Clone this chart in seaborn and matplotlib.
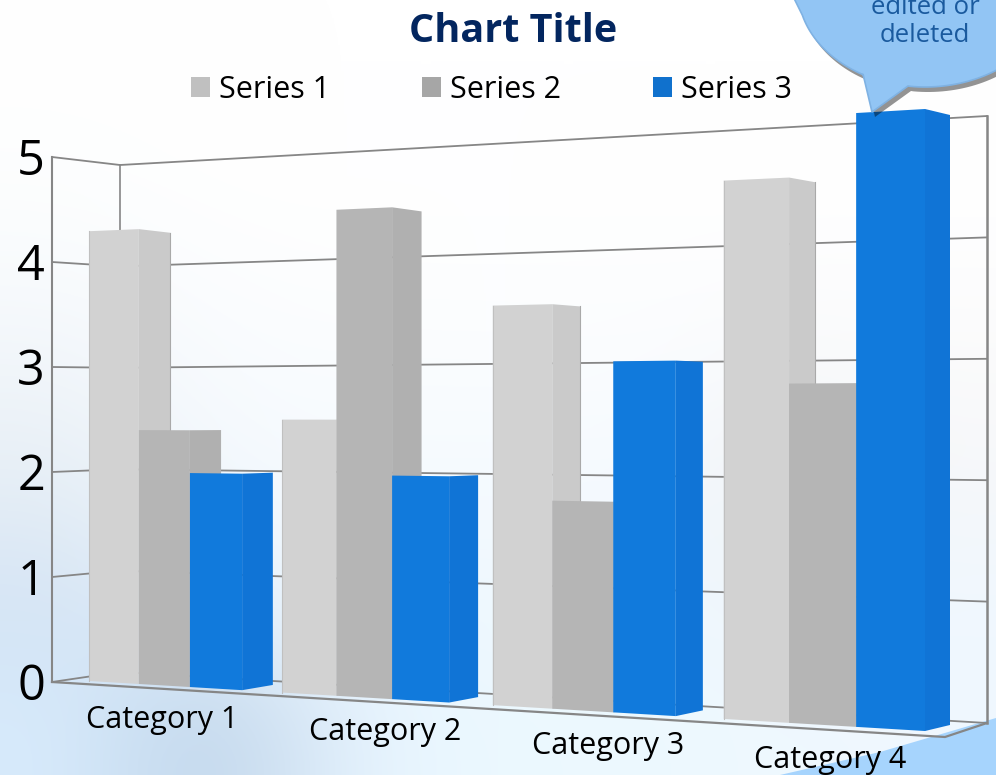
import numpy as np
import pandas as pd
import seaborn as sns
from matplotlib import pyplot as plt
from matplotlib.colors import to_rgb
from matplotlib.patches import Polygon
from matplotlib.transforms import Affine2D, Transform

categories = ['Category 1', 'Category 2', 'Category 3', 'Category 4']
series_names = ['Series 1', 'Series 2', 'Series 3']
series_1 = [4.3, 2.5, 3.5, 4.5]
series_2 = [2.4, 4.4, 1.8, 2.8]
series_3 = [2.0, 2.0, 3.0, 5.0]
y_ticks = [0, 1, 2, 3, 4, 5]

front_colors = ['#d2d2d2', '#b5b5b5', '#117adc']
side_colors = ['#cacaca', '#b0b0b0', '#1074d6']
legend_colors = ['#c0c0c0', '#a6a6a6', '#1071cd']
line_color = '#868686'

W, H = 996, 775

bg_rows = [
    ['#ffffff', '#ffffff', '#ffffff', '#ffffff', '#ffffff', '#ffffff', '#ffffff'],
    ['#fdfefe', '#ffffff', '#ffffff', '#ffffff', '#ffffff', '#ffffff', '#ffffff'],
    ['#f8fbfd', '#fcfdff', '#fdfeff', '#fdfeff', '#fdfeff', '#fdfdfe', '#fdfdfe'],
    ['#eff4f9', '#f8fbfe', '#f9fcff', '#f9fcff', '#fafcff', '#f6f8fa', '#fafafa'],
    ['#e4edf5', '#f2f8fd', '#f5faff', '#f4faff', '#f5faff', '#eef1f4', '#f5f7fa'],
    ['#d3e3f4', '#e4f0fb', '#eef7ff', '#eef8ff', '#eff8ff', '#f0f6fb', '#f0f8ff'],
    ['#d8ebfc', '#bcd2e8', '#e6f3fe', '#ecf9ff', '#ecf9ff', '#eff8ff', '#eff8ff'],
]


def homography(src, dst):
    rows, rhs = [], []
    for (x, y), (u, v) in zip(src, dst):
        rows.append([x, y, 1, 0, 0, 0, -u * x, -u * y])
        rows.append([0, 0, 0, x, y, 1, -v * x, -v * y])
        rhs += [u, v]
    return np.append(np.linalg.solve(rows, rhs), 1).reshape(3, 3)


# front plane of the bars: data coords -> reference pixels
M = homography([(-0.4, 0), (-0.4, 5), (3.4, 0), (3.4, 5)],
               [(89, 681), (89, 158), (925, 731), (925, 109)])
to_display = Affine2D().scale(1, -1).translate(0, H)


def project(xy):
    xy = np.asarray(xy, dtype=float)
    p = np.column_stack([xy, np.ones(len(xy))]) @ M.T
    return p[:, :2] / p[:, 2:]


def depth(pts):
    # where the back edge of a bar lands
    pts = np.asarray(pts, dtype=float)
    dx = 32 - 7 * (pts[:, 0] - 89) / 836
    dy = (420 - pts[:, 1]) * 0.0193
    return pts + np.column_stack([dx, dy])


class Persp(Transform):
    input_dims = 2
    output_dims = 2
    is_separable = False

    def transform_non_affine(self, values):
        return to_display.transform(project(values))


df = pd.DataFrame({
    'category': categories * 3,
    'series': np.repeat(series_names, 4),
    'value': series_1 + series_2 + series_3,
})

fig = plt.figure(figsize=(W / 100, H / 100), dpi=100)
plt.rcParams['font.family'] = ['Open Sans', 'DejaVu Sans']

# background
ax_bg = fig.add_axes([0, 0, 1, 1], zorder=0)
ax_bg.set_xlim(0, W)
ax_bg.set_ylim(H, 0)
ax_bg.axis('off')
bg = np.array([[to_rgb(c) for c in row] for row in bg_rows])
ax_bg.imshow(bg, extent=(0, W, H, 0), aspect='auto', interpolation='bicubic')
ax_bg.add_patch(Polygon([(780, 775), (880, 752), (996, 718), (996, 775)],
                        facecolor='#a6d4fd', edgecolor='none'))

# walls and floor
for v in y_ticks:
    left = 682 - 105 * v
    back_l = 672 - 101.4 * v
    back_r = 723 - 121.4 * v
    ax_bg.plot([52, 120, 987], [left, back_l, back_r], color=line_color, lw=1.3)
ax_bg.plot([52, 52], [157, 682], color=line_color, lw=1.5)
ax_bg.plot([120, 120], [165, 672], color=line_color, lw=1.2)
ax_bg.plot([987, 987], [116, 723], color=line_color, lw=1.8)
ax_bg.plot([52, 945, 987], [682, 737, 723], color=line_color, lw=1.6)

# bars
ax = fig.add_axes([0, 0, 1, 1], zorder=1)
sns.barplot(data=df, x='category', y='value', hue='series', hue_order=series_names,
            palette=front_colors, width=0.8, gap=0, dodge=True, saturation=1,
            errorbar=None, ax=ax)

for s, cont in enumerate(ax.containers):
    for bar in cont:
        x0, x1 = bar.get_x(), bar.get_x() + bar.get_width()
        top = bar.get_height()
        bar.set_transform(Persp())
        bar.set_clip_on(False)
        bar.set_zorder(4 + 2 * s)
        bar.set_edgecolor('none')
        edge = project([(x1, 0), (x1, top)])
        back = depth(edge)
        side = Polygon(np.vstack([edge, back[::-1]]), closed=True, transform=to_display,
                       facecolor=side_colors[s], edgecolor='none', zorder=3 + 2 * s,
                       clip_on=False)
        ax.add_artist(side)
        if s == 0:
            ax.plot(back[:, 0], back[:, 1], transform=to_display, color='#a9a9a9',
                    lw=0.8, zorder=3, clip_on=False)
            ax.plot(*project([(x0, 0), (x0, top)]).T, transform=to_display,
                    color='#c0c0c0', lw=0.8, zorder=5, clip_on=False)

sns.move_legend(ax, 'center', bbox_to_anchor=(491.5 / W, 1 - 90 / H),
                bbox_transform=fig.transFigure, ncol=3, frameon=False, title=None,
                fontsize=22, handlelength=0.62, handleheight=0.62, handletextpad=0.3,
                columnspacing=3.0, borderpad=0)
for patch, c in zip(ax.get_legend().get_patches(), legend_colors):
    patch.set_facecolor(c)
    patch.set_edgecolor('none')
ax.axis('off')

# text and callout on top
ax_top = fig.add_axes([0, 0, 1, 1], zorder=2)
ax_top.set_xlim(0, W)
ax_top.set_ylim(H, 0)
ax_top.axis('off')

ax_top.text(513, 32, 'Chart Title', ha='center', va='center', fontsize=28.5,
            fontweight='bold', color='#03265f')

for v in y_ticks:
    ax_top.text(45, 687 - 105 * v, str(v), ha='right', va='center', fontsize=35,
                color='black')

cat_x = [162, 385, 608, 830]
cat_y = [720, 732, 746, 760]
for name, x, y in zip(categories, cat_x, cat_y):
    ax_top.text(x, y, name, ha='center', va='center', fontsize=22, color='black')

t = np.radians(np.linspace(165, 15, 80))
blob = np.column_stack([925 + 127 * np.cos(t), -10 + 97 * np.sin(t)])
blob_left = blob[blob[:, 0] < 863]
blob_right = blob[blob[:, 0] > 908]
blob_left = blob_left[np.argsort(blob_left[:, 0])]
blob_right = blob_right[np.argsort(blob_right[:, 0])]
callout = np.vstack([[(780, -30)], blob_left, [(863, 74), (872, 112), (908, 86)],
                     blob_right, [(1040, 40), (1040, -30)]])
ax_top.add_patch(Polygon(callout + [3, 5], facecolor='black', alpha=0.42, edgecolor='none'))
ax_top.add_patch(Polygon(callout, facecolor='#92c5f4', edgecolor='#7fb2e3', lw=1.2))
ax_top.text(925, 8, 'edited or', ha='center', va='center', fontsize=18.5, color='#1a5a9e')
ax_top.text(925, 35, 'deleted', ha='center', va='center', fontsize=18.5, color='#1a5a9e')

fig.savefig('out.png', dpi=100)
